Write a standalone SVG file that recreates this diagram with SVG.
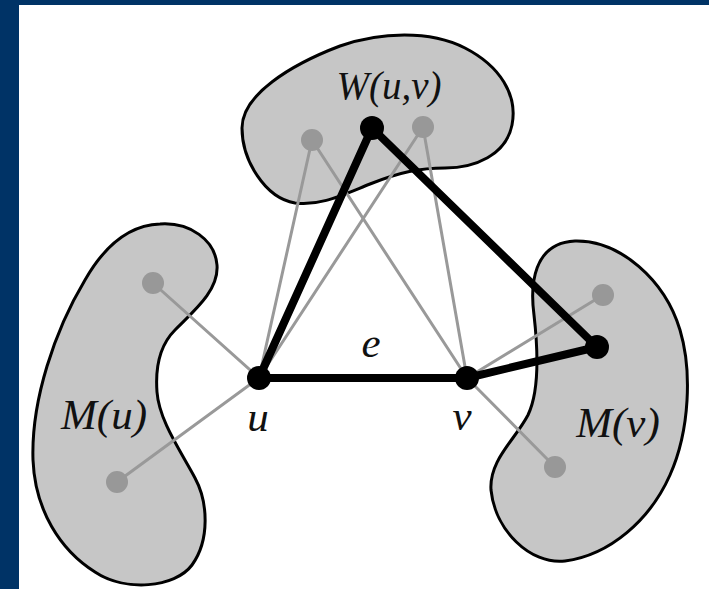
<svg xmlns="http://www.w3.org/2000/svg" width="709" height="589" viewBox="0 0 709 589">
  <defs>
    <style>
      .blob { fill: #c6c6c6; stroke: #000; stroke-width: 3; stroke-linejoin: round; }
      .thin { stroke: #999; stroke-width: 3; fill: none; stroke-linecap: round; }
      .thick { stroke: #000; stroke-width: 8; fill: none; stroke-linecap: round; }
      .gdot { fill: #989898; }
      .bdot { fill: #000; }
      .lbl { font-family: "Liberation Serif", "Times New Roman", serif; font-style: italic; fill: #111; text-anchor: middle; }
    </style>
  </defs>
  <rect x="0" y="0" width="709" height="589" fill="#003366"/>
  <rect x="19" y="5" width="690" height="584" fill="#ffffff"/>

  <g id="blob-W">
    <path class="blob" d="M242,128 C242,95 290,65 340,46 C380,32 430,30 465,48 C500,66 518,95 512,125 C506,155 475,168 445,168 C420,168 400,172 370,184 C340,196 320,206 295,203 C265,198 242,160 242,128 Z"/>
    <text class="lbl" x="389" y="99" font-size="39">W(u,v)</text>
  </g>
  <g id="blob-Mu">
    <path class="blob" d="M160,224 C190,222 215,240 217,265 C219,290 195,310 175,330 C160,345 155,365 157,392 C159,420 180,450 195,478 C208,502 210,540 192,565 C175,588 125,592 95,572 C60,550 35,510 33,460 C31,400 55,330 85,280 C105,245 130,225 160,224 Z"/>
    <text class="lbl" x="104" y="429" font-size="43">M(u)</text>
  </g>
  <g id="blob-Mv">
    <path class="blob" d="M575,241 C620,240 665,280 680,330 C692,370 690,430 670,475 C650,520 610,555 565,561 C530,565 495,530 491,490 C489,460 515,440 528,415 C540,390 538,350 534,315 C530,285 533,243 575,241 Z"/>
    <text class="lbl" x="618" y="437" font-size="43">M(v)</text>
  </g>

  <g id="connectors">
    <line class="thin" x1="259" y1="378" x2="153" y2="283"/>
    <line class="thin" x1="259" y1="378" x2="117" y2="482"/>
    <line class="thin" x1="259" y1="378" x2="312" y2="140"/>
    <line class="thin" x1="259" y1="378" x2="423" y2="127"/>
    <line class="thin" x1="467" y1="378" x2="312" y2="140"/>
    <line class="thin" x1="467" y1="378" x2="423" y2="127"/>
    <line class="thin" x1="467" y1="378" x2="603" y2="295"/>
    <line class="thin" x1="467" y1="378" x2="555" y2="467"/>
    <line class="thick" x1="259" y1="378" x2="372" y2="128"/>
    <line class="thick" x1="372" y1="128" x2="597" y2="347"/>
    <line class="thick" x1="597" y1="347" x2="467" y2="378"/>
    <line class="thick" x1="259" y1="378" x2="467" y2="378"/>
    <text class="lbl" x="371" y="357" font-size="43">e</text>
  </g>

  <g id="gray-nodes">
    <circle class="gdot" cx="153" cy="283" r="11"/>
    <circle class="gdot" cx="117" cy="482" r="11"/>
    <circle class="gdot" cx="312" cy="140" r="11"/>
    <circle class="gdot" cx="423" cy="127" r="11"/>
    <circle class="gdot" cx="603" cy="295" r="11"/>
    <circle class="gdot" cx="555" cy="467" r="11"/>
  </g>
  <g id="node-u">
    <circle class="bdot" cx="259" cy="378" r="12"/>
    <text class="lbl" x="258" y="431" font-size="43">u</text>
  </g>
  <g id="node-v">
    <circle class="bdot" cx="467" cy="378" r="12"/>
    <text class="lbl" x="462" y="430" font-size="43">v</text>
  </g>
  <g id="node-w">
    <circle class="bdot" cx="372" cy="128" r="12"/>
  </g>
  <g id="node-mv">
    <circle class="bdot" cx="597" cy="347" r="12"/>
  </g>
</svg>
